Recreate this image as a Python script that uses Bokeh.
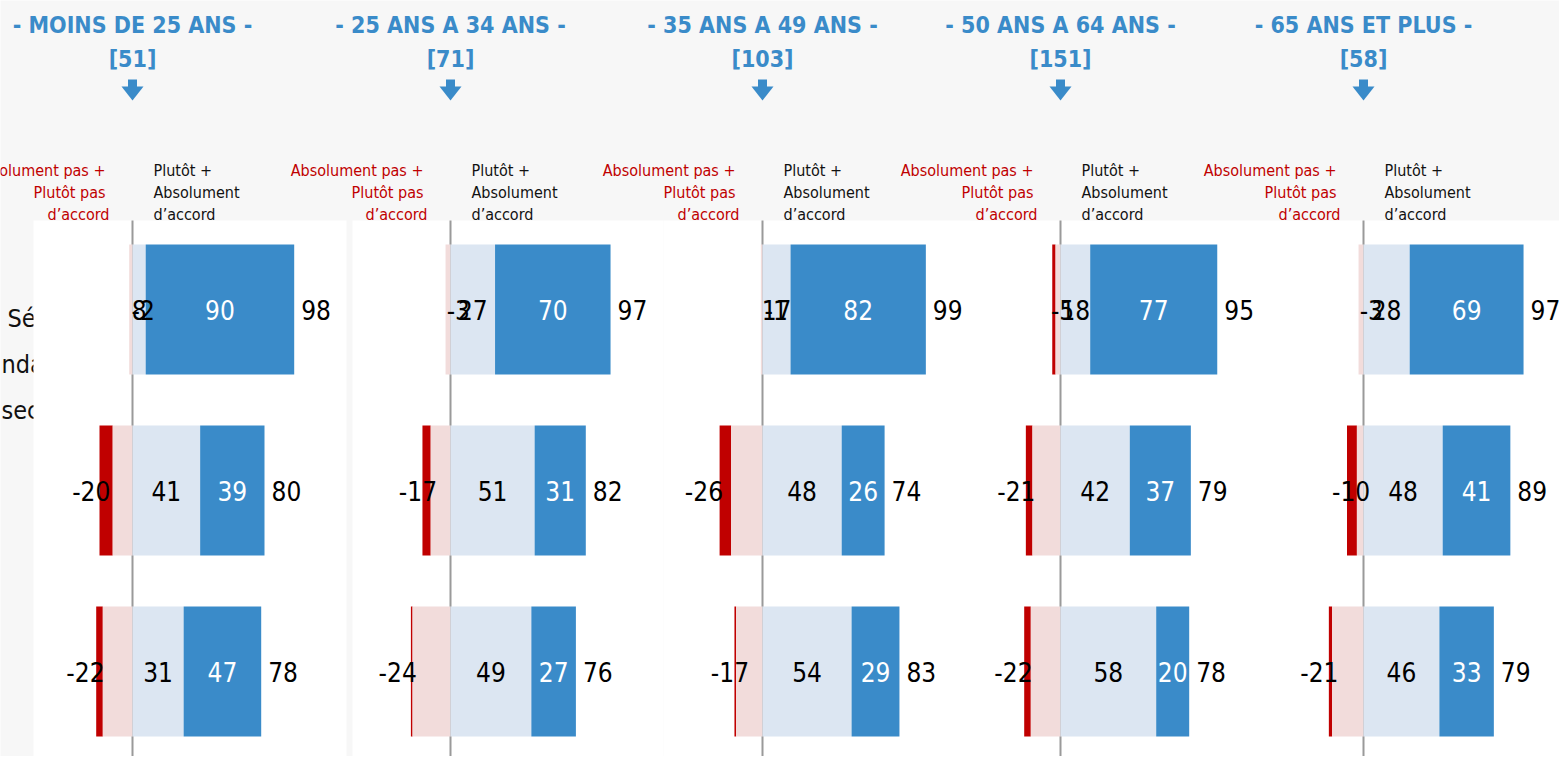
from bokeh.plotting import figure
from bokeh.models import Range1d, ColumnDataSource
from bokeh.core.properties import value
from bokeh.embed import file_html
from bokeh.resources import INLINE

# ---------------- data ----------------
groups = ["- MOINS DE 25 ANS -", "- 25 ANS A 34 ANS -", "- 35 ANS A 49 ANS -",
          "- 50 ANS A 64 ANS -", "- 65 ANS ET PLUS -"]
counts = ["[51]", "[71]", "[103]", "[151]", "[58]"]

# one list per age group, one value per statement (3 rows)
strongly_disagree = [[0, 8, 4], [0, 5, 1], [0, 7, 1], [2, 4, 4], [0, 6, 2]]
somewhat_disagree = [[2, 12, 18], [3, 12, 23], [1, 19, 16], [3, 17, 18], [3, 4, 19]]
somewhat_agree = [[8, 41, 31], [27, 51, 49], [17, 48, 54], [18, 42, 58], [28, 48, 46]]
strongly_agree = [[90, 39, 47], [70, 31, 27], [82, 26, 29], [77, 37, 20], [69, 41, 33]]

neg_header = ["Absolument pas +", "Plutôt pas", "d’accord"]
pos_header = ["Plutôt +", "Absolument", "d’accord"]
row_label_fragments = ["Sé", "ndat", "sec"]

# ---------------- layout ----------------
W, H = 1559, 756
K = 1.65                      # pixels per percentage point
ZERO_PX = [132, 450, 762, 1060, 1363]
ROW_PX = [309, 490, 671]
BAR_H = 130
FONT = "DejaVu Sans Condensed, Liberation Sans, sans-serif"
C_DARKRED = "#c00000"
C_PINK = "#f2dcdb"
C_LIGHT = "#dce6f2"
C_BLUE = "#3a8bc9"
C_BG = "#f7f7f7"


def X(px):
    return px / K


def Y(py):
    return py


zero = [X(z) for z in ZERO_PX]
rows_y = [Y(r) for r in ROW_PX]

p = figure(width=W, height=H, x_range=Range1d(0, W / K), y_range=Range1d(H, 0),
           output_backend="svg", toolbar_location=None, min_border=0)
p.axis.visible = False
p.xgrid.visible = False
p.ygrid.visible = False
p.outline_line_color = None
p.background_fill_color = C_BG
p.border_fill_color = C_BG

# row label fragments (mostly hidden behind the first panel)
p.text(x=[X(7), X(1), X(1)], y=[Y(318), Y(364), Y(410)], text=row_label_fragments,
       text_font=value(FONT), text_font_size="25px", text_color="#111111",
       text_align="left", text_baseline="middle")

# titles, counts, arrows, column headers
p.text(x=zero, y=[Y(24)] * 5, text=groups, text_font=value(FONT), text_font_size="23px",
       text_font_style="bold", text_color=C_BLUE, text_align="center", text_baseline="middle")
p.text(x=zero, y=[Y(58)] * 5, text=counts, text_font=value(FONT), text_font_size="23px",
       text_font_style="bold", text_color=C_BLUE, text_align="center", text_baseline="middle")
p.quad(left=[z - 4.5 / K for z in zero], right=[z + 4.5 / K for z in zero],
       top=[Y(79)] * 5, bottom=[Y(87)] * 5, fill_color=C_BLUE, line_color=None)
p.patches(xs=[[z - 11 / K, z + 11 / K, z] for z in zero], ys=[[Y(86), Y(86), Y(100)]] * 5,
          fill_color=C_BLUE, line_color=None)

hdr_y = [Y(170), Y(192), Y(214)]
for i, line in enumerate(neg_header):
    p.text(x=zero, y=[hdr_y[i]] * 5, text=[line] * 5, text_font=value(FONT),
           text_font_size="16px", text_color=C_DARKRED, text_align="right",
           text_baseline="middle", x_offset=-27 if i < 2 else -23)
for i, line in enumerate(pos_header):
    p.text(x=zero, y=[hdr_y[i]] * 5, text=[line] * 5, text_font=value(FONT),
           text_font_size="16px", text_color="#111111", text_align="left",
           text_baseline="middle", x_offset=21)

# white panels
p.quad(left=[X(33), X(352), X(663)], right=[X(346), X(663), X(1600)],
       top=[Y(220)] * 3, bottom=[Y(760), Y(761), Y(800)],
       fill_color="white", line_color=None)

# zero lines
p.segment(x0=zero, x1=zero, y0=[Y(220)] * 5, y1=[Y(761)] * 5, line_color="#9a9a9a", line_width=2)

# bars
rec = dict(y=[], sd_l=[], sd_r=[], swd_l=[], swd_r=[], sa_l=[], sa_r=[], st_l=[], st_r=[],
           sa_x=[], st_x=[], sa_t=[], st_t=[], pos_x=[], pos_t=[], neg_x=[], neg_t=[])
for g in range(5):
    z = zero[g]
    for r in range(3):
        sd, swd = strongly_disagree[g][r], somewhat_disagree[g][r]
        sa, st = somewhat_agree[g][r], strongly_agree[g][r]
        neg = -(sd + swd)
        pos = sa + st
        rec["y"].append(rows_y[r])
        rec["sd_l"].append(z - sd - swd)
        rec["sd_r"].append(z - swd)
        rec["swd_l"].append(z - swd)
        rec["swd_r"].append(z)
        rec["sa_l"].append(z)
        rec["sa_r"].append(z + sa)
        rec["st_l"].append(z + sa)
        rec["st_r"].append(z + pos)
        rec["sa_x"].append(z + sa / 2)
        rec["st_x"].append(z + sa + st / 2)
        rec["sa_t"].append(str(sa))
        rec["st_t"].append(str(st))
        rec["pos_x"].append(z + pos)
        rec["pos_t"].append(str(pos))
        rec["neg_x"].append(z + neg * 1.75 + 10)
        rec["neg_t"].append(str(neg))
src = ColumnDataSource(rec)

p.hbar(y="y", left="sd_l", right="sd_r", height=BAR_H, source=src, fill_color=C_DARKRED, line_color=None)
p.hbar(y="y", left="swd_l", right="swd_r", height=BAR_H, source=src, fill_color=C_PINK, line_color=None)
p.hbar(y="y", left="sa_l", right="sa_r", height=BAR_H, source=src, fill_color=C_LIGHT, line_color=None)
p.hbar(y="y", left="st_l", right="st_r", height=BAR_H, source=src, fill_color=C_BLUE, line_color=None)

lbl = dict(text_font=value(FONT), text_font_size="26px", text_baseline="middle")
p.text(x="neg_x", y="y", text="neg_t", source=src, text_color="#000000", text_align="center", **lbl)
p.text(x="sa_x", y="y", text="sa_t", source=src, text_color="#000000", text_align="center", **lbl)
p.text(x="st_x", y="y", text="st_t", source=src, text_color="#ffffff", text_align="center", **lbl)
p.text(x="pos_x", y="y", text="pos_t", source=src, text_color="#000000", text_align="left",
       x_offset=7, **lbl)

open("out.html", "w").write(file_html(p, INLINE))
